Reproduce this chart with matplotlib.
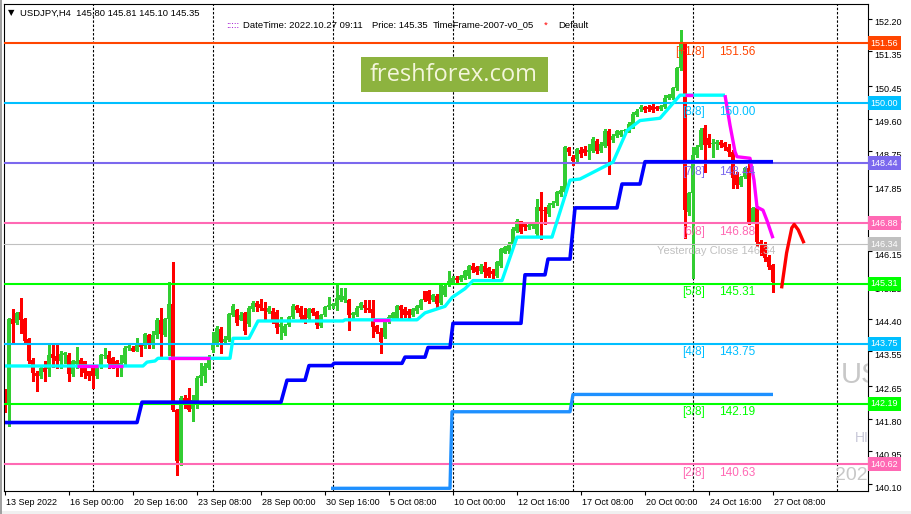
import matplotlib
matplotlib.use('Agg')
import matplotlib.pyplot as plt
from matplotlib.patches import Rectangle
from matplotlib.transforms import ScaledTranslation
import numpy as np

plt.rcParams['font.family'] = ['Liberation Sans', 'DejaVu Sans']

# USDJPY H4 candles, one per bar (13 Sep 2022 08:00 .. 27 Oct 2022 08:00)
opens = [142.55, 142.18, 144.40, 144.29, 144.57, 144.39, 143.88, 143.32, 143.00, 142.90,
         143.13, 143.10, 143.48, 143.44, 143.29, 143.46, 143.46, 142.96, 143.22, 143.33,
         143.29, 143.03, 143.16, 142.90, 143.16, 143.42, 143.46, 143.38, 143.29, 143.16,
         143.25, 143.64, 143.64, 143.57, 143.72, 143.68, 143.97, 143.72, 143.97, 144.37,
         143.97, 144.40, 144.78, 142.03, 140.69, 142.34, 142.34, 142.06, 142.25, 142.86,
         142.90, 143.13, 143.59, 143.72, 144.12, 143.79, 143.85, 144.50, 144.63, 144.37,
         144.56, 144.25, 144.65, 144.82, 144.78, 144.68, 144.58, 144.60, 144.58, 144.19,
         144.02, 144.23, 144.45, 144.73, 144.68, 144.50, 144.41, 144.64, 144.58, 144.22,
         144.50, 144.71, 144.72, 144.74, 144.89, 144.88, 144.89, 144.50, 144.50, 144.68,
         144.76, 144.69, 144.65, 144.22, 144.06, 143.93, 144.32, 144.42, 144.40, 144.72,
         144.66, 144.61, 144.50, 144.59, 144.69, 145.11, 145.11, 144.89, 144.98, 144.81,
         145.02, 145.28, 145.33, 145.47, 145.41, 145.46, 145.50, 145.78, 145.74, 145.65,
         145.78, 145.71, 145.65, 145.52, 145.78, 146.12, 146.15, 146.34, 146.69, 146.93,
         146.86, 146.78, 146.80, 146.60, 147.30, 147.21, 147.12, 147.36, 147.40, 147.65,
         147.69, 148.84, 148.61, 148.55, 148.79, 148.82, 148.72, 148.77, 149.01, 148.77,
         148.88, 149.29, 149.04, 149.16, 149.17, 149.27, 149.29, 149.39, 149.69, 149.85,
         149.91, 149.90, 149.93, 149.90, 149.86, 149.91, 150.13, 150.13, 150.39, 150.91,
         151.56, 147.18, 147.66, 148.65, 148.87, 149.35, 149.09, 148.94, 148.94, 149.00,
         148.96, 148.87, 148.74, 148.13, 147.87, 148.09, 148.31, 146.92, 147.27, 146.40,
         146.31, 146.01, 145.80]
highs = [142.58, 144.42, 144.65, 144.58, 144.94, 144.42, 143.91, 143.38, 143.04, 143.19,
         143.29, 143.71, 143.71, 143.71, 143.55, 143.53, 143.51, 143.33, 143.66, 143.38,
         143.31, 143.05, 143.20, 143.20, 143.48, 143.64, 143.55, 143.40, 143.33, 143.46,
         143.68, 143.77, 143.68, 143.90, 143.77, 144.03, 144.00, 144.07, 144.42, 144.68,
         144.42, 145.35, 145.87, 142.05, 142.40, 142.42, 142.60, 142.42, 142.90, 143.25,
         143.25, 143.45, 144.06, 144.20, 144.19, 143.94, 144.55, 144.78, 144.65, 144.58,
         144.58, 144.72, 144.86, 144.86, 144.90, 144.84, 144.72, 144.68, 144.63, 144.45,
         144.25, 144.48, 144.78, 144.76, 144.72, 144.67, 144.69, 144.67, 144.60, 144.53,
         144.74, 144.97, 144.82, 145.32, 145.19, 145.19, 144.90, 144.58, 144.73, 144.84,
         144.89, 144.89, 144.89, 144.24, 144.15, 144.35, 144.50, 144.58, 144.75, 144.76,
         144.70, 144.65, 144.68, 144.76, 144.92, 145.13, 145.14, 145.05, 145.05, 145.32,
         145.30, 145.63, 145.50, 145.50, 145.54, 145.66, 145.80, 145.85, 145.78, 145.82,
         145.87, 145.75, 145.68, 145.90, 146.25, 146.30, 146.40, 146.78, 146.98, 146.95,
         146.90, 146.87, 146.88, 147.51, 147.69, 147.30, 147.40, 147.45, 147.72, 147.86,
         148.90, 148.87, 148.66, 148.84, 148.85, 148.90, 148.95, 149.12, 149.06, 148.98,
         149.33, 149.32, 149.20, 149.30, 149.31, 149.33, 149.50, 149.76, 149.85, 149.95,
         149.94, 149.95, 149.97, 149.93, 149.95, 150.22, 150.25, 150.42, 150.95, 151.90,
         151.60, 147.70, 148.87, 148.92, 149.35, 149.43, 149.20, 149.08, 149.05, 149.05,
         149.00, 148.95, 148.78, 148.22, 148.12, 148.35, 148.44, 147.30, 147.32, 146.45,
         146.40, 146.05, 145.81]
lows = [141.98, 141.62, 143.77, 144.25, 144.03, 143.77, 143.25, 142.79, 142.51, 142.86,
        142.77, 142.90, 143.14, 143.12, 143.12, 143.25, 142.79, 142.90, 143.12, 142.90,
        142.86, 142.81, 142.60, 142.86, 143.12, 143.38, 143.12, 143.12, 142.90, 142.90,
        143.20, 143.59, 143.55, 143.55, 143.42, 143.64, 143.64, 143.64, 143.90, 143.42,
        143.94, 143.46, 142.00, 140.34, 140.60, 142.08, 141.99, 141.73, 142.08, 142.68,
        142.75, 143.10, 143.54, 143.68, 143.50, 143.75, 143.81, 144.48, 144.24, 144.36,
        143.99, 144.20, 144.60, 144.60, 144.63, 144.37, 144.55, 144.28, 144.02, 143.87,
        143.98, 144.20, 144.43, 144.58, 144.40, 144.28, 144.37, 144.50, 144.15, 144.18,
        144.47, 144.65, 144.68, 144.63, 144.86, 144.84, 144.11, 144.37, 144.47, 144.65,
        144.58, 144.58, 143.93, 144.02, 143.50, 143.90, 144.28, 144.38, 144.37, 144.40,
        144.45, 144.37, 144.48, 144.56, 144.66, 144.85, 144.80, 144.86, 144.70, 144.78,
        144.98, 145.24, 145.30, 145.33, 145.38, 145.42, 145.46, 145.62, 145.55, 145.60,
        145.48, 145.48, 145.41, 145.48, 145.75, 146.10, 146.12, 146.26, 146.65, 146.62,
        146.70, 146.74, 146.76, 146.55, 146.47, 146.86, 147.08, 147.30, 147.36, 147.58,
        147.62, 148.66, 148.40, 148.50, 148.60, 148.65, 148.55, 148.74, 148.70, 148.74,
        148.85, 148.15, 148.98, 149.12, 149.15, 149.22, 149.25, 149.36, 149.66, 149.80,
        149.78, 149.80, 149.78, 149.82, 149.82, 149.88, 150.10, 150.10, 150.35, 150.86,
        146.49, 147.10, 145.45, 148.60, 148.82, 148.22, 148.85, 148.61, 148.80, 148.85,
        148.79, 148.62, 147.79, 147.79, 147.84, 148.05, 146.87, 146.88, 146.30, 146.06,
        145.90, 145.70, 145.10]
closes = [142.01, 144.40, 144.26, 144.55, 144.37, 143.83, 143.31, 143.00, 142.90, 143.12,
          143.01, 143.46, 143.38, 143.29, 143.48, 143.51, 142.96, 143.29, 143.29, 143.16,
          143.00, 142.90, 142.90, 143.16, 143.46, 143.46, 143.25, 143.13, 143.16, 143.25,
          143.64, 143.68, 143.57, 143.72, 143.66, 144.00, 143.72, 143.97, 144.37, 144.00,
          144.40, 144.78, 142.03, 140.69, 142.33, 142.16, 142.03, 142.29, 142.86, 142.94,
          143.18, 143.41, 143.72, 144.15, 143.79, 143.88, 144.51, 144.73, 144.28, 144.50,
          144.08, 144.67, 144.82, 144.71, 144.68, 144.60, 144.68, 144.37, 144.17, 144.25,
          144.22, 144.45, 144.74, 144.62, 144.45, 144.34, 144.65, 144.54, 144.24, 144.50,
          144.71, 144.76, 144.78, 144.93, 145.02, 144.98, 144.50, 144.54, 144.69, 144.80,
          144.69, 144.63, 144.19, 144.06, 143.79, 144.32, 144.45, 144.55, 144.72, 144.63,
          144.50, 144.50, 144.66, 144.72, 144.89, 144.89, 144.85, 145.02, 144.78, 145.28,
          145.26, 145.37, 145.47, 145.41, 145.50, 145.63, 145.76, 145.67, 145.61, 145.78,
          145.61, 145.52, 145.56, 145.87, 146.21, 146.26, 146.34, 146.73, 146.95, 146.65,
          146.78, 146.84, 146.86, 147.30, 147.21, 147.19, 147.36, 147.40, 147.69, 147.74,
          148.86, 148.73, 148.51, 148.81, 148.68, 148.70, 148.78, 149.07, 148.75, 148.94,
          149.29, 148.90, 149.16, 149.29, 149.27, 149.30, 149.46, 149.72, 149.81, 149.90,
          149.82, 149.86, 149.82, 149.86, 149.93, 150.13, 150.21, 150.39, 150.91, 151.56,
          147.22, 147.66, 148.65, 148.87, 149.30, 148.91, 148.91, 148.97, 149.00, 148.92,
          148.85, 148.74, 148.05, 147.87, 148.09, 148.31, 146.92, 147.27, 146.40, 146.31,
          145.97, 145.75, 145.35]

# trailing stop line (cyan part), vertices as bar / price
trail_bar = [0, 34.5, 35.5, 37.5, 38.25, 56.25, 57, 61, 63.25, 84.5, 85, 103, 105, 110,
             111.75, 115, 117, 124.25, 128, 136.75, 141.25, 143.75, 152, 155.5, 158.75,
             163.75, 168.75, 180]
trail_px = [143.17, 143.17, 143.27, 143.30, 143.37, 143.37, 143.89, 143.89, 144.34, 144.34,
            144.37, 144.37, 144.55, 144.72, 144.95, 145.18, 145.39, 145.39, 146.52, 146.52,
            148.00, 148.03, 148.47, 149.29, 149.55, 149.61, 150.21, 150.21]
# same line where it turns to resistance (magenta)
magenta_segs = [
    ([18, 23.25], [143.17, 143.17]),
    ([25.75, 29.5], [143.17, 143.17]),
    ([40.75, 51.25], [143.37, 143.37]),
    ([92, 96.25], [144.37, 144.37]),
    ([170, 172], [150.21, 150.21]),
    ([180, 181.25, 182.5, 183, 186.25, 187.25, 188, 189.5, 190.5, 192],
     [150.21, 149.43, 148.74, 148.61, 148.57, 148.00, 147.30, 147.22, 146.95, 146.49]),
]

# slower stepped support (blue)
blue_bar = [0, 33, 34.25, 69, 70.5, 75, 76, 81.75, 82.25, 99.25, 100, 105, 105.75, 111.25,
            112, 129, 130, 135, 135.75, 141.25, 142.5, 153, 154.25, 158.75, 160, 192]
blue_px = [141.70, 141.70, 142.23, 142.23, 142.80, 142.80, 143.18, 143.18, 143.24, 143.24,
           143.40, 143.40, 143.65, 143.65, 144.28, 144.28, 145.54, 145.54, 145.95, 145.95,
           147.28, 147.28, 147.90, 147.90, 148.48, 148.48]

# weekly stepped support (dodger blue)
dblue_bar = [81.5, 111.25, 111.75, 141.25, 142, 192]
dblue_px = [139.99, 139.99, 141.98, 141.98, 142.43, 142.43]

# projection curve after the last bar
proj_bar = [194.2, 195.4, 196.7, 197.3, 198.3, 199.6]
proj_px = [145.23, 146.11, 146.76, 146.85, 146.71, 146.40]

# Murrey Math levels
mm_levels = [151.56, 150.00, 148.44, 146.88, 145.31, 143.75, 142.19, 140.62]
mm_names = ['[+1/8]', '[8/8]', '[7/8]', '[6/8]', '[5/8]', '[4/8]', '[3/8]', '[2/8]']
mm_values = ['151.56', '150.00', '148.44', '146.88', '145.31', '143.75', '142.19', '140.63']
mm_colors = ['#FF4500', '#00BFFF', '#7B68EE', '#FF69B4', '#00FF00', '#00BFFF', '#00FF00', '#FF69B4']
yclose = 146.34

price_ticks = [152.20, 151.35, 150.45, 149.60, 148.75, 147.85, 147.00, 146.15, 145.25,
               144.40, 143.55, 142.65, 141.80, 140.95, 140.10]
time_ticks = [0, 16, 32, 48, 64, 80, 96, 112, 128, 144, 160, 176, 192]
time_labels = ['13 Sep 2022', '16 Sep 00:00', '20 Sep 16:00', '23 Sep 08:00', '28 Sep 00:00',
               '30 Sep 16:00', '5 Oct 08:00', '10 Oct 00:00', '12 Oct 16:00', '17 Oct 08:00',
               '20 Oct 00:00', '24 Oct 16:00', '27 Oct 08:00']
week_bars = [22, 52, 82, 112, 142, 172, 208]

W, H = 911, 514
fig = plt.figure(figsize=(W / 100, H / 100), dpi=100)
ax = fig.add_axes([4 / W, 23 / H, 864 / W, 487 / H])
ax.set_xlim(-0.25, 215.75)
ax.set_ylim(139.92, 152.58)

# candles
o = np.array(opens); h = np.array(highs); l = np.array(lows); c = np.array(closes)
x = np.arange(len(o))
col = np.where(c >= o, '#32CD32', '#FF0000')
ax.vlines(x, l, h, colors=col, lw=1.0, zorder=2, antialiased=False)
ax.bar(x, np.maximum(np.abs(c - o), 0.03), bottom=np.minimum(o, c), width=0.78,
       color=col, linewidth=0, zorder=2, antialiased=False)

# week separators
for b in week_bars:
    ax.axvline(b, color='black', lw=0.8, ls=(0, (2.2, 1.6)), zorder=1)

# Murrey lines and labels
for lev, name, val, cc in zip(mm_levels, mm_names, mm_values, mm_colors):
    ax.axhline(lev, color=cc, lw=1.5, zorder=3)
    ax.annotate(name, (175, lev), xytext=(0, -2), textcoords='offset points',
                ha='right', va='top', color=cc, fontsize=8.5, zorder=6)
    ax.annotate(val, (178.5, lev), xytext=(0, -2), textcoords='offset points',
                ha='left', va='top', color=cc, fontsize=8.5, zorder=6)
ax.axhline(yclose, color='#C0C0C0', lw=0.8, zorder=3)
ax.annotate('Yesterday Close 146.34', (163, yclose), xytext=(0, -1.5),
            textcoords='offset points', ha='left', va='top', color='#C0C0C0',
            fontsize=8, zorder=6)

# indicator lines
ax.plot(trail_bar, trail_px, color='#00FFFF', lw=2.4, zorder=4, solid_capstyle='butt')
for sb, sp in magenta_segs:
    ax.plot(sb, sp, color='#FF00FF', lw=2.4, zorder=4, solid_capstyle='butt')
ax.plot(blue_bar, blue_px, color='#0000FF', lw=2.6, zorder=4, solid_capstyle='butt')
ax.plot(dblue_bar, dblue_px, color='#1E90FF', lw=2.4, zorder=4, solid_capstyle='butt')
ax.plot(proj_bar, proj_px, color='#FF0000', lw=2.4, zorder=4)

# faded watermark texts at the right edge
ax.text(209, 142.94, 'US', fontsize=21, color='#C8C8C8', va='center', ha='left', clip_on=True)
ax.text(212.5, 141.30, 'HI', fontsize=10, color='#C8C8D8', va='center', ha='left', clip_on=True)
ax.text(207.5, 140.33, '2022', fontsize=14, color='#C8C8C8', va='center', ha='left', clip_on=True)

# axes, ticks
for s in ax.spines.values():
    s.set_linewidth(0.8)
ax.yaxis.tick_right()
ax.set_yticks(price_ticks)
ax.set_yticklabels(['%.2f' % t for t in price_ticks])
ax.set_xticks(time_ticks)
ax.set_xticklabels(time_labels)
ax.tick_params(axis='y', length=3, width=0.8, pad=1.5, labelsize=6.5)
ax.tick_params(axis='x', length=3, width=0.8, pad=2, labelsize=6.5)
for lab in ax.get_yticklabels():
    lab.set_transform(lab.get_transform() + ScaledTranslation(0, -0.03, fig.dpi_scale_trans))
for lab in ax.get_xticklabels():
    lab.set_horizontalalignment('left')
    lab.set_transform(lab.get_transform() + ScaledTranslation(0.01, 0, fig.dpi_scale_trans))

# price boxes on the right scale
box_levels = mm_levels + [yclose]
box_colors = mm_colors + ['#C0C0C0']
for lev, cc in zip(box_levels, box_colors):
    ax.text(1.003, lev, '%.2f' % lev, transform=ax.get_yaxis_transform(), color='white',
            fontsize=6.5, ha='left', va='center', clip_on=False, zorder=8,
            bbox=dict(boxstyle='square,pad=0.28', fc=cc, ec='none'))

# watermark box
fig.patches.append(Rectangle((361 / W, 1 - 92 / H), 187 / W, 35 / H,
                             transform=fig.transFigure, fc='#8DB33F', ec='none', zorder=5))
fig.text(454 / W, 1 - 75 / H, 'freshforex.com', family='Open Sans', fontsize=17,
         color='#F4F6DC', ha='center', va='center', zorder=6)

# header
fig.text(8 / W, 1 - 13 / H, '\u25BC', fontsize=6, ha='left', va='center', family='DejaVu Sans')
fig.text(20 / W, 1 - 13 / H, 'USDJPY,H4  145.80 145.81 145.10 145.35', fontsize=6.8,
         ha='left', va='center')
fig.text(226 / W, 1 - 25 / H, ':::::', fontsize=6.8, color='#9900CC', ha='left', va='center')
fig.text(243 / W, 1 - 25 / H, 'DateTime: 2022.10.27 09:11', fontsize=6.8, ha='left', va='center')
fig.text(372 / W, 1 - 25 / H, 'Price: 145.35', fontsize=6.8, ha='left', va='center')
fig.text(433 / W, 1 - 25 / H, 'TimeFrame-2007-v0_05', fontsize=6.8, ha='left', va='center')
fig.text(544 / W, 1 - 25 / H, '*', fontsize=6.8, color='#FF0000', ha='left', va='center')
fig.text(558 / W, 1 - 25 / H, 'Default', fontsize=6.8, ha='left', va='center')

# outer frame shading
fig.patches.append(Rectangle((0, 0), 1, 3 / H, transform=fig.transFigure, fc='#F0F0F0', ec='none'))
fig.patches.append(Rectangle((0, 0), 2 / W, 1, transform=fig.transFigure, fc='#A0A0A0', ec='none'))

fig.savefig('out.png', dpi=100)
